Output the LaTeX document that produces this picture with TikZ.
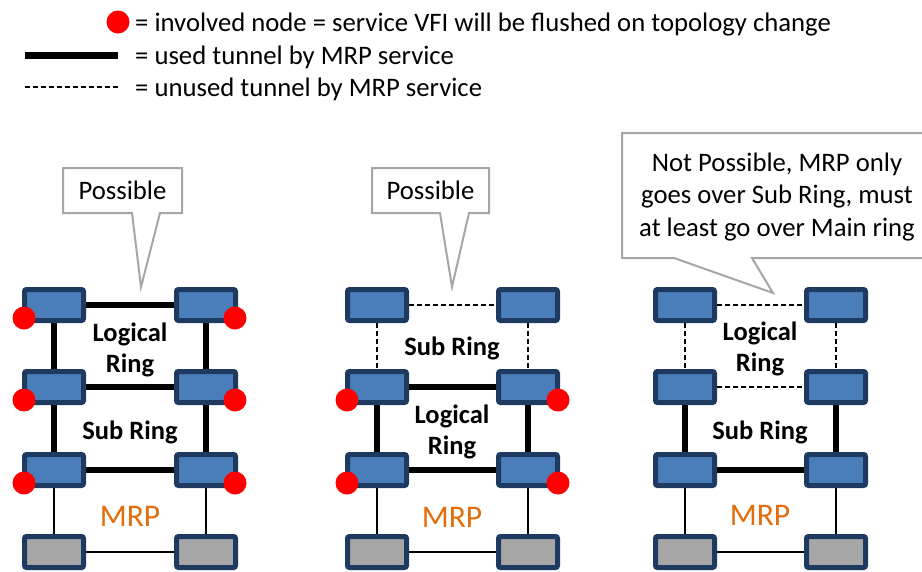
\documentclass[tikz,border=0pt]{standalone}
\usepackage{fontspec}
\setmainfont{Carlito}
\usetikzlibrary{backgrounds}
\definecolor{boxfill}{HTML}{4A7EBB}
\definecolor{boxline}{HTML}{1F3A60}
\definecolor{grayfill}{HTML}{A6A6A6}
\definecolor{mrporange}{HTML}{E46C0A}
\definecolor{calloutgray}{HTML}{A6A6A6}
\begin{document}
\begin{tikzpicture}[x=1pt,y=-1pt,
 dev/.style={draw=boxline, fill=boxfill, line width=5pt, minimum width=59pt, minimum height=31pt, inner sep=0pt, rounded corners=2pt},
 edgedev/.style={dev, fill=grayfill},
 used/.style={line width=6pt},
 unused/.style={line width=1.8pt, dash pattern=on 5pt off 3pt},
 plain/.style={line width=2pt},
 involved/.style={circle, fill=red, minimum size=23pt, inner sep=0pt},
 lbl/.style={font=\fontsize{26.5}{31}\selectfont\bfseries, align=center},
 mrp/.style={text=mrporange, font=\fontsize{31.5}{36}\selectfont},
 callout/.style={draw=calloutgray, line width=2pt, fill=white, line join=miter},
 txt/.style={font=\fontsize{26.7}{32}\selectfont, inner sep=0pt}
]
\useasboundingbox (0,0) rectangle (922,571);
\clip (0,0) rectangle (922,571);

% legend
\node[involved] (legdot) at (118,22) {};
\coordinate (legu1) at (25,55);
\coordinate (legu2) at (118,55);
\coordinate (legn1) at (25,87);
\coordinate (legn2) at (118,87);
\draw[line width=7pt] (legu1) -- (legu2);
\draw[unused] (legn1) -- (legn2);
\node[txt, anchor=base west] (legt1) at (135,31) {= involved node = service VFI will be flushed on topology change};
\node[txt, anchor=base west] (legt2) at (135,64) {= used tunnel by MRP service};
\node[txt, anchor=base west] (legt3) at (135,96) {= unused tunnel by MRP service};

% devices
\foreach \dg/\xl/\xr in {a/54/206, b/377/528, c/685/836}{
  \foreach \rw/\yy in {1/305,2/387,3/470}{
    \node[dev] (\dg-\rw-L) at (\xl,\yy) {};
    \node[dev] (\dg-\rw-R) at (\xr,\yy) {};
  }
  \node[edgedev] (\dg-4-L) at (\xl,552) {};
  \node[edgedev] (\dg-4-R) at (\xr,552) {};
}

\begin{scope}[on background layer]
  % diagram a
  \draw[used] (a-1-L) -- (a-1-R);
  \draw[used] (a-2-L) -- (a-2-R);
  \draw[used] (a-3-L) -- (a-3-R);
  \draw[used] (a-1-L) -- (a-2-L);
  \draw[used] (a-2-L) -- (a-3-L);
  \draw[used] (a-1-R) -- (a-2-R);
  \draw[used] (a-2-R) -- (a-3-R);
  % diagram b
  \draw[unused] (b-1-L) -- (b-1-R);
  \draw[unused] (b-1-L) -- (b-2-L);
  \draw[unused] (b-1-R) -- (b-2-R);
  \draw[used] (b-2-L) -- (b-2-R);
  \draw[used] (b-2-L) -- (b-3-L);
  \draw[used] (b-2-R) -- (b-3-R);
  \draw[used] (b-3-L) -- (b-3-R);
  % diagram c
  \draw[unused] (c-1-L) -- (c-1-R);
  \draw[unused] (c-1-L) -- (c-2-L);
  \draw[unused] (c-1-R) -- (c-2-R);
  \draw[unused] (c-2-L) -- (c-2-R);
  \draw[used] (c-2-L) -- (c-3-L);
  \draw[used] (c-2-R) -- (c-3-R);
  \draw[used] (c-3-L) -- (c-3-R);
  % MRP edge links
  \foreach \dg in {a,b,c}{
    \draw[plain] (\dg-3-L) -- (\dg-4-L);
    \draw[plain] (\dg-3-R) -- (\dg-4-R);
    \draw[plain] (\dg-4-L) -- (\dg-4-R);
  }
\end{scope}

% involved nodes
\foreach \yy in {305,387,470}{
  \node[involved] at (24,\yy+13) {};
  \node[involved] at (235,\yy+13) {};
}
\foreach \yy in {387,470}{
  \node[involved] at (347,\yy+13) {};
  \node[involved] at (558,\yy+13) {};
}

% labels
\node[lbl] (a-log) at (130,350) {Logical\\Ring};
\node[lbl] (a-sub) at (130,432) {Sub Ring};
\node[mrp] (a-mrp) at (130,516) {MRP};
\node[lbl] (b-sub) at (452,348) {Sub Ring};
\node[lbl] (b-log) at (452,432) {Logical\\Ring};
\node[mrp] (b-mrp) at (452,517) {MRP};
\node[lbl] (c-log) at (760,349) {Logical\\Ring};
\node[lbl] (c-sub) at (760,432) {Sub Ring};
\node[mrp] (c-mrp) at (760,515) {MRP};

% callouts
\draw[callout] (63,168) -- (182,168) -- (182,213) -- (160,213) -- (141,287) -- (132,213) -- (63,213) -- cycle;
\node[txt] (pa) at (122.5,190.5) {Possible};
\draw[callout] (372,168) -- (489,168) -- (489,213) -- (469,213) -- (452,287) -- (440,213) -- (372,213) -- cycle;
\node[txt] (pb) at (430.5,190.5) {Possible};
\draw[callout] (622,133) -- (932,133) -- (932,258) -- (752,258) -- (773,293) -- (674,258) -- (622,258) -- cycle;
\node[txt, align=center, font=\fontsize{26.7}{32.5}\selectfont] (pc) at (777,197) {Not Possible, MRP only\\goes over Sub Ring, must\\at least go over Main ring};
\end{tikzpicture}
\end{document}
